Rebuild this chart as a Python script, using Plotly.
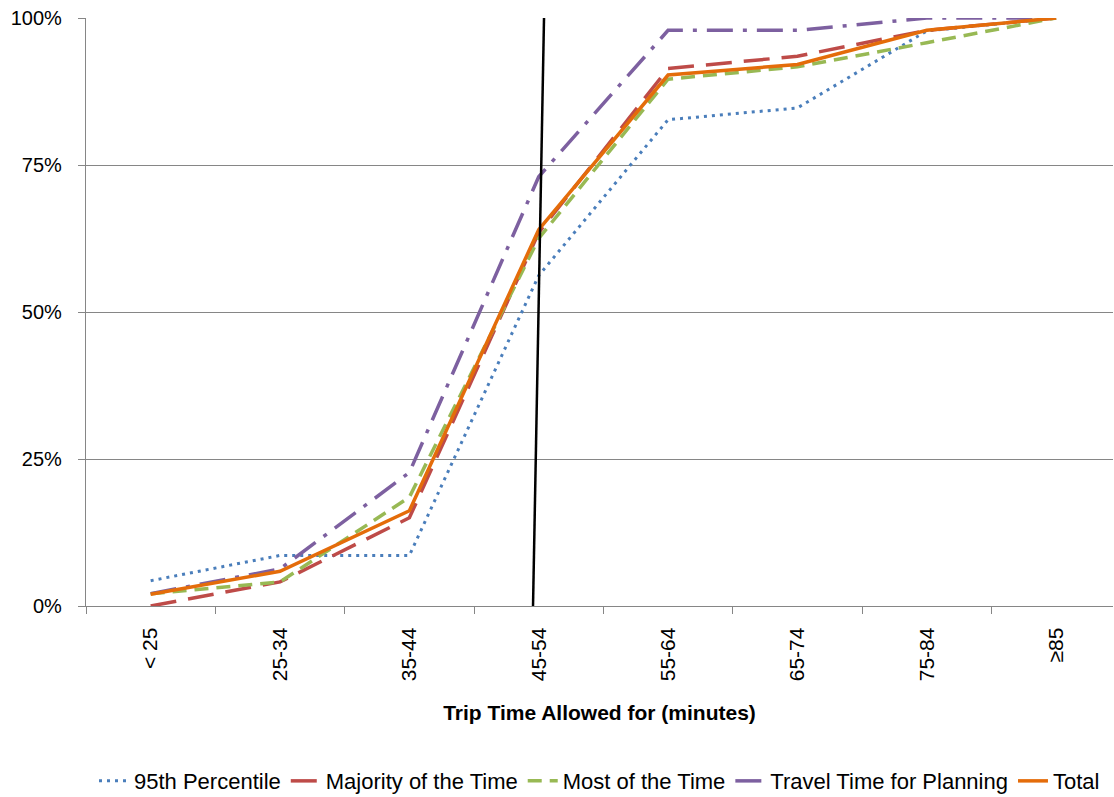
import plotly.graph_objects as go

categories = ["< 25", "25-34", "35-44", "45-54", "55-64", "65-74", "75-84", "≥85"]

pct95 = [0.043, 0.086, 0.086, 0.562, 0.827, 0.847, 0.978, 1.0]
majority = [0.0, 0.041, 0.150, 0.635, 0.914, 0.935, 0.979, 1.0]
most = [0.021, 0.041, 0.185, 0.625, 0.896, 0.917, 0.958, 1.0]
planning = [0.021, 0.063, 0.227, 0.730, 0.979, 0.979, 1.0, 1.0]
total = [0.020, 0.059, 0.162, 0.640, 0.903, 0.921, 0.979, 1.0]

divider_x = [2.956, 3.041]
divider_y = [0.0, 1.0]

series = [
    ("95th Percentile", pct95, "#4A7EBB", "3px,5px", 3),
    ("Majority of the Time", majority, "#BE4B48", "26px,12px", 3.5),
    ("Most of the Time", most, "#98B954", "14px,8px", 3.5),
    ("Travel Time for Planning", planning, "#7D60A0", "26px,10px,4px,10px", 3.5),
    ("Total", total, "#E46C0A", "solid", 3.5),
]

fig = go.Figure()
for name, vals, color, dash, w in series:
    fig.add_trace(go.Scatter(
        x=categories, y=vals, mode="lines", name=name,
        line=dict(color=color, dash=dash, width=w),
    ))

fig.add_shape(type="line", xref="x", yref="y",
              x0=divider_x[0], x1=divider_x[1], y0=divider_y[0], y1=divider_y[1],
              line=dict(color="black", width=2.5))

fig.update_layout(
    width=1114, height=797,
    margin=dict(l=86, r=1, t=18, b=191, autoexpand=False),
    plot_bgcolor="white", paper_bgcolor="white",
    font=dict(family="Liberation Sans", color="#000000"),
    showlegend=True,
    legend=dict(orientation="h", x=0.5, xanchor="center", y=-0.262, yanchor="top",
                font=dict(family="Liberation Sans", size=22),
                itemwidth=30),
    xaxis=dict(
        type="category", range=[-0.5, 7.44], automargin=False,
        showline=True, linecolor="#868686", linewidth=1.3,
        ticks="outside", tickson="boundaries", ticklen=7, tickcolor="#868686",
        tickangle=-90, tickfont=dict(family="Liberation Sans", size=21),
        ticklabelstandoff=12,
        showgrid=False,
        title=dict(text="<b>Trip Time Allowed for (minutes)</b>",
                   font=dict(family="Liberation Sans", size=21),
                   standoff=25),
    ),
    yaxis=dict(
        range=[0, 1], dtick=0.25, tickformat=".0%", automargin=False,
        showline=True, linecolor="#868686", linewidth=1.3,
        ticks="outside", ticklen=7, tickcolor="#868686",
        showgrid=True, gridcolor="#868686", gridwidth=1.3,
        zeroline=False, ticklabelstandoff=12,
        tickfont=dict(family="Liberation Sans", size=20),
    ),
)

fig.write_html("out.html")
